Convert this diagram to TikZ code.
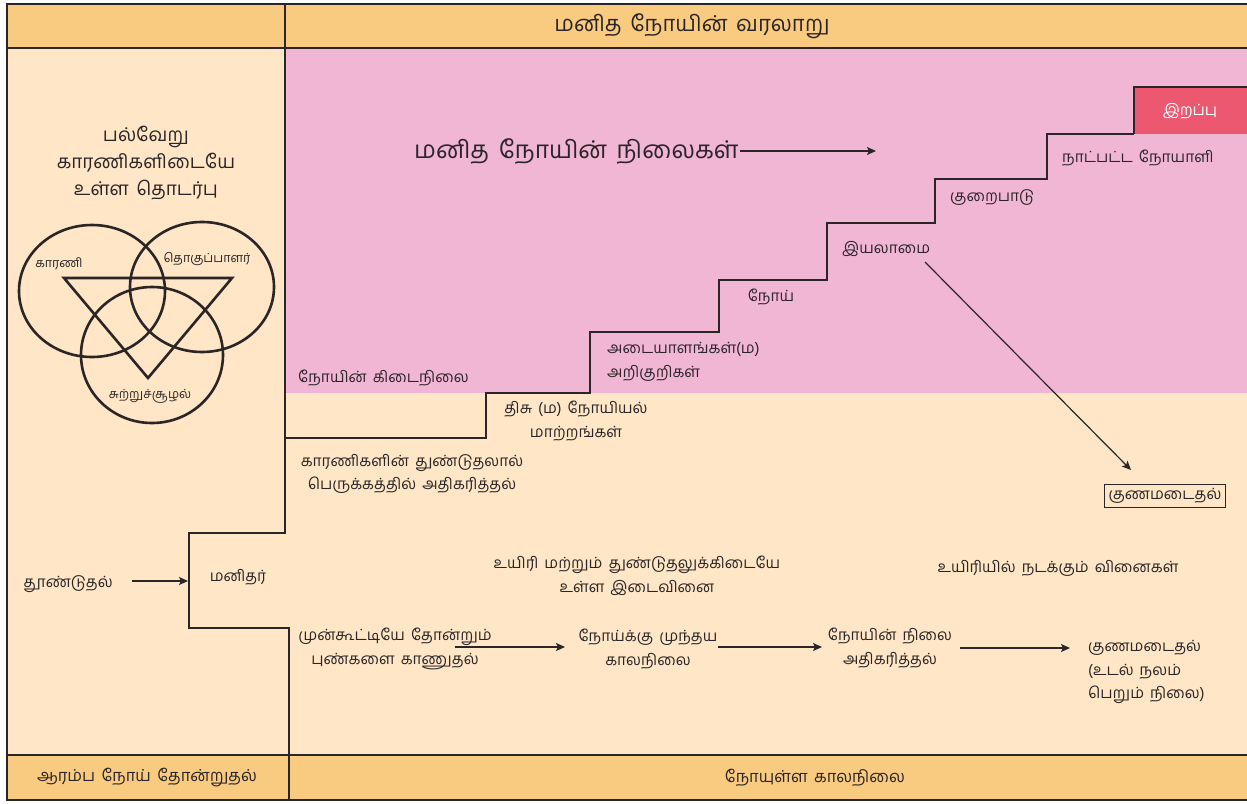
\documentclass[tikz,border=0pt]{standalone}
\usepackage{fontspec}
\setmainfont[Script=Tamil,WordSpace=1.6]{Hind Madurai}
\usetikzlibrary{positioning,arrows,arrows.meta}

\definecolor{hdrcol}{HTML}{F9CB80}
\definecolor{beige}{HTML}{FEE6C6}
\definecolor{pinkcol}{HTML}{F2B6D5}
\definecolor{deathcol}{HTML}{EC5870}
\definecolor{ink}{HTML}{2B2527}

\begin{document}
\begin{tikzpicture} [x=1pt,y=-1pt,every node/.style={text=ink,font=\fontsize{15.5}{23.5}\selectfont,inner sep=1pt},
  edge/.style={draw=ink,line width=1.4pt},
  venn/.style={draw=ink,line width=2.6pt},
  flow/.style={-{Stealth[length=9pt,width=8pt,inset=2pt]},draw=ink,line width=1.2pt}]

\useasboundingbox (0,0) rectangle (1247,803);

% background bands
\fill[beige] (7,48) rectangle (1247,755);
\fill[pinkcol] (285,48) rectangle (1247,393);
\fill[hdrcol] (7,4) rectangle (1247,48);
\fill[hdrcol] (7,755) rectangle (1247,800);
\fill[deathcol] (1134,87) rectangle (1247,134);

% frame
\draw[edge] (1247,4)--(7,4)--(7,800)--(1247,800);
\draw[edge] (7,48)--(1247,48);
\draw[edge] (7,755)--(1247,755);
\draw[edge] (285,4)--(285,48);
\draw[edge] (289,755)--(289,800);
\draw[edge] (1247,87)--(1134,87)--(1134,134);

% divider and bracket round the human
\coordinate (b0) at (285,48);
\coordinate (b1) at (285,533);
\coordinate (b2) at (189,533);
\coordinate (b3) at (189,628);
\coordinate (b4) at (289,628);
\coordinate (b5) at (289,755);
\draw[edge](b0)--(b1)--(b2)--(b3)--(b4)--(b5);

% staircase
\draw[edge] (285,438)--(486,438)--(486,393)--(590,393)--(590,332)--(719,332)--(719,280)
  --(827,280)--(827,223)--(935,223)--(935,179)--(1047,179)--(1047,134)--(1134,134);

% header and footer
\node[font=\fontsize{22}{26}\selectfont] (hdr) at (692,26) {மனித நோயின் வரலாறு};
\node[font=\fontsize{16.5}{20}\selectfont] (ftleft) at (147,778) {ஆரம்ப நோய் தோன்றுதல்};
\node[font=\fontsize{16.5}{20}\selectfont] (ftright) at (815,778) {நோயுள்ள காலநிலை};

% left column
\node[align=center,font=\fontsize{19}{27}\selectfont] (venntitle) at (146,163) {பல்வேறு\\காரணிகளிடையே\\உள்ள தொடர்பு};
\draw[venn] (92,291) ellipse [x radius=73, y radius=66];
\draw[venn] (202,287) ellipse [x radius=72, y radius=65];
\draw[venn] (152,355) ellipse [x radius=71, y radius=68];
\draw[venn] (64,278)--(232,278)--(148,378)--cycle;
\node[font=\fontsize{12.5}{14}\selectfont] (karani) at (59,264) {காரணி};
\node[font=\fontsize{12.5}{14}\selectfont] (thoguppalar) at (207,259) {தொகுப்பாளர்};
\node[font=\fontsize{12.5}{14}\selectfont] (suzhal) at (150,396) {சுற்றுச்சூழல்};

\node (tuundu) at (68,584) {தூண்டுதல்};
\node (manithar) at (238,577) {மனிதர்};
\coordinate (hit) at (188,581);
\coordinate (tuunduend) at (132,581);
\draw[flow](tuunduend)to(hit);

% stages
\node[anchor=west,font=\fontsize{24.5}{28}\selectfont] (stages) at (413,151) {மனித நோயின் நிலைகள்};
\coordinate (stagesend) at (876,151);
\draw[flow](stages.east)to(stagesend);

\node[anchor=west] (latent) at (297,378) {நோயின் கிடைநிலை};
\node[align=center] (tissue) at (576,421) {திசு (ம) நோயியல்\\மாற்றங்கள்};
\node[align=left,anchor=west] (signs) at (606,362) {அடையாளங்கள்(ம)\\அறிகுறிகள்};
\node (disease) at (771,297) {நோய்};
\node[anchor=west] (disability) at (841,249) {இயலாமை};
\node[anchor=west] (defect) at (949,198) {குறைபாடு};
\node[anchor=west] (chronic) at (1061,158) {நாட்பட்ட நோயாளி};
\node[text=white] (death) at (1190,111) {இறப்பு};
\node[align=center] (spread) at (412,474) {காரணிகளின் துண்டுதலால்\\பெருக்கத்தில் அதிகரித்தல்};

\node[draw=ink,line width=1.2pt,inner sep=4pt] (cure) at (1165,496) {குணமடைதல்};
\coordinate (disstart) at (925,262);
\coordinate (cureend) at (1131,470);
\draw[flow](disstart)to(cureend);

\node[align=center] (interact) at (637,576) {உயிரி மற்றும் துண்டுதலுக்கிடையே\\உள்ள இடைவினை};
\node (reactions) at (1058,568) {உயிரியில் நடக்கும் வினைகள்};

% course of the disease
\node[align=center] (lesions) at (395,649) {முன்கூட்டியே தோன்றும்\\புண்களை காணுதல்};
\node[align=center] (prepath) at (648,649) {நோய்க்கு முந்தய\\காலநிலை};
\node[align=center] (rise) at (890,648) {நோயின் நிலை\\அதிகரித்தல்};
\node[align=left,anchor=west] (recovery) at (1087,672) {குணமடைதல்\\(உடல் நலம்\\பெறும் நிலை)};

\coordinate (l1) at (455,647);
\coordinate (l2) at (565,647);
\coordinate (l3) at (718,647);
\coordinate (l4) at (822,647);
\coordinate (l5) at (960,648);
\coordinate (l6) at (1070,648);
\draw[flow](l1)to(l2);
\draw[flow](l3)to(l4);
\draw[flow](l5)to(l6);
\end{tikzpicture}
\end{document}
